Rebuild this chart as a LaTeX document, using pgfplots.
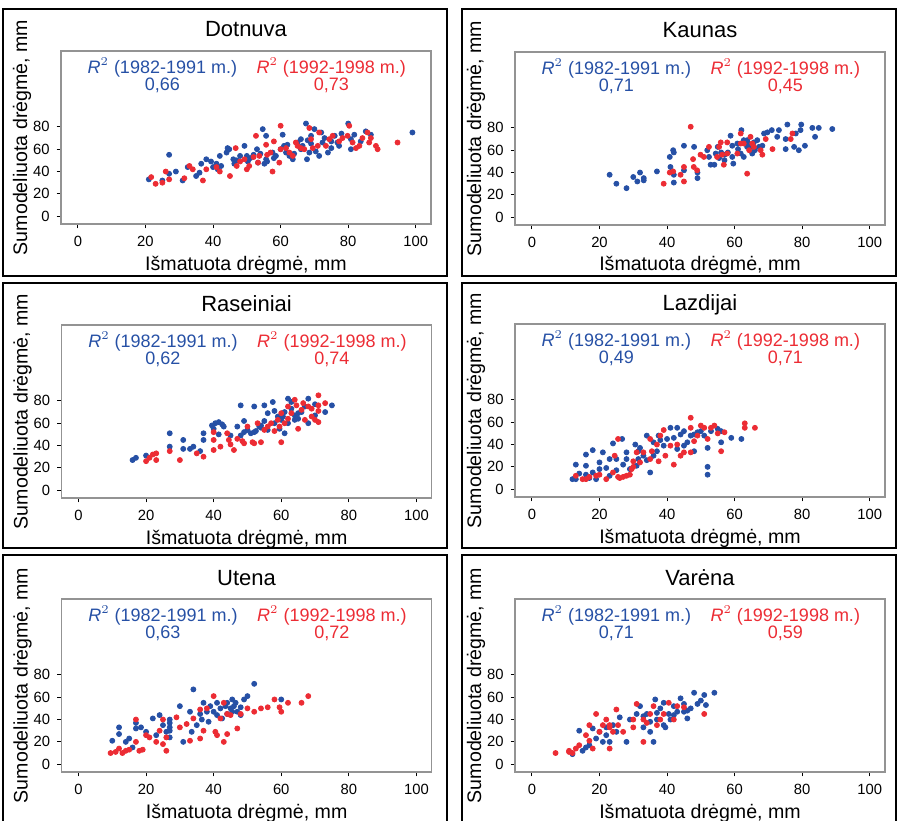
\documentclass[border=0pt]{standalone}
\usepackage{fontspec}
\setmainfont{Liberation Sans}
\usepackage{pgfplots}
\pgfplotsset{compat=1.18}

\definecolor{ptblue}{RGB}{38,80,165}
\definecolor{ptred}{RGB}{236,44,52}

\pgfplotsset{
  panel/.style={
    scale only axis, width=185pt, height=86.5pt,
    xmin=-5, xmax=104.5, ymin=-7, ymax=148,
    xtick={0,20,...,100}, ytick={0,20,...,80},
    xtick pos=bottom, ytick pos=left, tick align=outside,
    major tick length=2.2pt,
    axis line style={draw=gray!85, line width=0.6pt},
    tick style={black, line width=0.5pt},
    /pgf/number format/assume math mode=true,
    tick label style={font=\fontsize{7.4}{8}\selectfont},
    xticklabel style={yshift=-0.5pt},
    title style={at={(0.5,1)}, anchor=base, yshift=1pt, font=\fontsize{11}{13}\selectfont},
    xlabel={Išmatuota drėgmė, mm},
    ylabel={Sumodeliuota drėgmė, mm},
    label style={font=\fontsize{9.8}{11}\selectfont},
    xlabel style={at={(0.5,0)}, anchor=base, yshift=-23pt},
    ylabel style={at={(0,0.5)}, anchor=center, yshift=19.5pt},
    clip=false,
  },
  bpt/.style={only marks, mark=*, mark size=1.25pt, color=ptblue, mark options={draw=none, fill=ptblue}},
  rpt/.style={only marks, mark=*, mark size=1.25pt, color=ptred, mark options={draw=none, fill=ptred}},
}
\newcommand{\rsq}[2]{%
  \node[ptblue, font=\fontsize{9}{10}\selectfont] at (axis cs:25,133) {$\mathit{R}^{2}$ (1982-1991 m.)};
  \node[ptblue, font=\fontsize{9}{10}\selectfont] at (axis cs:25,117) {#1};
  \node[ptred, font=\fontsize{9}{10}\selectfont] at (axis cs:75,133) {$\mathit{R}^{2}$ (1992-1998 m.)};
  \node[ptred, font=\fontsize{9}{10}\selectfont] at (axis cs:75,117) {#2};
}

\begin{document}
\begin{tikzpicture}
\useasboundingbox (0,0) rectangle (449pt,410pt);
% panel frames
\draw[line width=1pt] (1.5pt,405.5pt) rectangle (223.5pt,272pt);
\draw[line width=1pt] (230.8pt,405.5pt) rectangle (448pt,272pt);
\draw[line width=1pt] (1.5pt,268.5pt) rectangle (223.5pt,136pt);
\draw[line width=1pt] (231pt,268.5pt) rectangle (448pt,136pt);
\draw[line width=1pt] (1.5pt,-2pt) -- (1.5pt,132.5pt) -- (223.5pt,132.5pt) -- (223.5pt,-2pt);
\draw[line width=1pt] (231pt,-2pt) -- (231pt,132.5pt) -- (448pt,132.5pt) -- (448pt,-2pt);

% Dotnuva
\begin{axis}[panel, at={(30.5pt,298pt)}, anchor=south west, title={Dotnuva}]
\addplot[bpt] coordinates {
(21,33) (27,55) (27,38) (25,32) (29,40) (31,32) (32.5,44) (35,36) (36,39) (36.5,47)
(38,51) (39.4,49) (41,47) (42,54) (42.4,45) (41.4,42) (44.3,61) (44.8,60) (46,51) (46.3,47)
(48,54) (49.3,63) (50,54) (50.3,49) (52,55) (53,60) (53.3,48) (54.7,78) (55.7,72) (55.7,51)
(55.2,47) (57.6,57) (58.6,54) (60.6,73) (61,63) (61.6,57) (62.6,54) (63.6,51) (65,66) (66,69)
(66.5,63) (67.5,83) (67.8,51) (68.5,57) (69,72) (70,78) (70.4,58) (71.4,54) (72,75) (72.4,66)
(74,57) (75,67) (76,72) (76.8,66) (77.3,63) (80,83) (80.8,69) (80.8,60) (81.8,73) (83.7,67)
(85.2,76) (86.7,73) (99,75) (75,61) (69,65) (64,56) (60,60) (58,52) (54,56) (51,52) (47,50)
(44,57) (40,44) (56,49) (66,60) (73,70) (78,74) (62,64) (68,68)
};
\addplot[rpt] coordinates {
(21.7,35) (23,29) (25,30) (26,40) (27,33) (31.5,34) (33,45) (34,42) (37,32) (38,42)
(41,44) (42,40) (45,36) (46.7,61) (47,45) (49.3,51) (50,42) (50.7,45) (52.7,72) (53.3,48)
(53.7,54) (55.7,64) (57,57) (57.6,40) (58,67) (59.6,48) (60,81) (60,60) (61.6,61) (62.6,57)
(63.6,54) (64.5,66) (66,61) (67,60) (68.5,79) (69,69) (69.5,61) (71,63) (71.4,75) (73.4,63)
(74.4,69) (75.4,72) (77.3,67) (78.3,70) (79.8,72) (80.3,81) (81.3,66) (82.3,61) (83.3,63) (84.2,70)
(85.7,75) (86.2,66) (88.2,63) (88.7,60) (94.6,66) (86.7,70) (65,63) (56,55) (52,53) (48,49)
};
\rsq{0,66}{0,73}
\end{axis}

% Kaunas
\begin{axis}[panel, at={(257.5pt,297.5pt)}, anchor=south west, title={Kaunas}]
\addplot[bpt] coordinates {
(23,38) (25,30) (28,26) (30,36) (31.2,32) (32,40) (33.1,35) (33.1,33) (37,41) (40.8,54)
(41,45) (41.8,60) (42,58) (42,38) (42,31) (45,64) (45,42) (48,63) (49,40) (49,35)
(51.9,60) (52.4,54) (52.9,47) (54,47) (54.4,57) (55,63) (55.4,53) (56,58) (57,51) (58,58)
(58.8,73) (59.3,64) (59.3,54) (60.8,66) (61.8,57) (62,78) (62.7,69) (62.7,54) (63.7,63) (63.7,69)
(64.7,63) (65.2,57) (65.7,67) (66.7,69) (67.2,63) (68.2,64) (68.7,75) (69.7,76) (71,78) (72.6,72)
(73.1,78) (75.1,61) (75.1,70) (75.6,83) (77.6,63) (78.1,75) (79,60) (79.5,78) (79.7,83) (80.8,64)
(83,80) (83.8,72) (84.9,80) (88.9,79) (59.6,48) (64,66) (66,60) (61,61) (57,56)
};
\addplot[rpt] coordinates {
(39,30) (40.8,40) (41.8,41) (44,38) (45,32) (45,45) (47,81) (47.7,52) (47.9,45) (48.9,42)
(49.9,56) (50.9,54) (52.4,63) (54.8,54) (55.4,63) (55.9,67) (56.3,56) (56.8,47) (57.8,67) (57.8,57)
(60.8,57) (61.8,75) (61.8,66) (62.7,66) (63.7,39) (64.3,60) (64.7,72) (65.2,66) (65.7,63) (67.7,60)
(68.2,56) (69.2,70) (71.2,61) (76.6,70) (77.1,75)
};
\rsq{0,71}{0,45}
\end{axis}

% Raseiniai
\begin{axis}[panel, at={(30.8pt,161pt)}, anchor=south west, title={Raseiniai}]
\addplot[bpt] coordinates {
(16,27) (17,29) (20,31) (27,51) (27,39) (31,45) (31,37) (33,37) (34,39) (36,35)
(37,51) (37,45) (39.5,58) (40,55) (40.5,60) (41.5,61) (42.5,59) (41.5,50) (43,57) (45,49)
(48,76) (47,57) (48,49) (49,62) (49,52) (50,54) (51,51) (52,75) (52.5,53) (53.5,57)
(54,58) (55,76) (55,62) (56,69) (57.5,79) (58,60) (59,66) (59.5,55) (60.5,66) (61,70)
(62,60) (62,82) (63,73) (64,63) (65,69) (65,64) (66,70) (67,75) (68,82) (68,60)
(70,67) (70,77) (73,70) (75,76) (61,51) (56,54) (58,71) (63,79) (52,52) (54,56) (60,63) (64,67)
};
\addplot[rpt] coordinates {
(20,26) (21,29) (22,32) (23,27) (23,33) (27,35) (30,27) (35,33) (37,30) (40,45)
(40,52) (40,36) (42,39) (44,51) (44.5,45) (45,41) (46,36) (47,46) (48.5,44) (49,42)
(51.5,43) (52,42) (54,43) (50,57) (53,60) (55,54) (56,57) (58,53) (59.5,57) (60,43)
(59,63) (60,69) (61,60) (62,75) (63,69) (64,81) (64.5,76) (65,55) (66,72) (66.5,78)
(67,63) (68,75) (69,66) (69,73) (71,61) (71,76) (71,85) (73,78) (71,71) (70,63) (62,64) (57,60)
};
\rsq{0,62}{0,74}
\end{axis}

% Lazdijai
\begin{axis}[panel, at={(257.5pt,161.5pt)}, anchor=south west, title={Lazdijai}]
\addplot[bpt] coordinates {
(12,9) (13,22) (13,9) (16,31) (16,21) (16,13) (18,35) (18,15) (19,9) (20,24)
(21,33) (22,19) (23,27) (24,41) (25,17) (25,27) (26.7,45) (27,22) (28,33) (29,18)
(30.6,40) (31.5,34) (31.5,27) (32,37) (33,30) (34,48) (35,15) (36,42) (36,30) (37,34)
(37.5,48) (39,39) (40,45) (41,55) (42,46) (43,55) (43,36) (44,49) (45,39) (46,42)
(47,48) (48,49) (48,34) (49,51) (50,52) (52,20) (52,13) (52,37) (53,52) (55,54)
(56,42) (59,46) (62,45) (56,52) (51,48) (45,52) (31,21) (23,12) (17,10) (14,14) (20,18) (28,27) (34,26) (38,44)
};
\addplot[rpt] coordinates {
(13,12) (15,9) (16,9) (17,11) (19,12) (20,13) (22,9) (24,15) (24.5,30) (25.5,45)
(25.5,11) (27,11) (28,12) (29,13) (29.5,18) (30,25) (31,33) (32,24) (33,33) (35,27)
(35.5,34) (37,40) (37.5,25) (38,48) (39,53) (39.5,30) (41,39) (42,22) (43,40) (44,30)
(45,33) (47,64) (47,55) (48,43) (49,48) (50,57) (51,55) (52,45) (53,55) (54,57)
(55,50) (56,34) (57,51) (63,55) (63,59) (66,55) (47,33) (35,45) (26,10) (30,20)
};
\rsq{0,49}{0,71}
\end{axis}

% Utena
\begin{axis}[panel, at={(30.8pt,24pt)}, anchor=south west, title={Utena}]
\addplot[bpt] coordinates {
(10,21) (12,33) (12,27) (14,20) (15,23) (16,15) (17,32) (17,37) (18.5,33) (20,29)
(22,41) (23,26) (24,44) (25,35) (26,29) (27,40) (27,33) (27,24) (30,52) (31,20)
(33,47) (34,67) (33.5,29) (35,35) (36.5,40) (37,55) (38,47) (38.5,38) (40,47) (41,44)
(42,50) (42.5,41) (43.5,52) (44,55) (45,50) (45.5,58) (46.5,55) (47,47) (48,51) (49,58)
(50,61) (52,72) (48,44) (45.5,47) (60,58) (36,45) (39,52) (41,55) (27,37) (27,30) (44,45) (46,52)
};
\addplot[rpt] coordinates {
(9.5,10) (11,11) (12,14) (14,12) (15,13) (17,20) (17,40) (18,12) (19,13) (20,26)
(21,24) (23,20) (25,40) (25,18) (26,12) (26,24) (29,42) (30,33) (32,36) (33,21)
(34,41) (36,23) (37,30) (38,50) (40,61) (40.5,29) (41,26) (42,41) (43,20) (43,55)
(44,27) (45,44) (47,32) (48,45) (50,50) (52,47) (54,50) (56,51) (58,58) (59.5,51)
(60,47) (66,55) (68,61) (62,55) (36,49) (44,45) (13,10) (24,30)
};
\rsq{0,63}{0,72}
\end{axis}

% Varena
\begin{axis}[panel, at={(257.5pt,24pt)}, anchor=south west, title={Varėna}]
\addplot[bpt] coordinates {
(14,30) (17,17) (15,12) (18,32) (19,23) (20,29) (21,20) (22,26) (22,33) (23,20)
(24,35) (25,29) (26,42) (28,20) (29,40) (31,45) (32,52) (33,33) (34,45) (35,29)
(36,20) (36.5,58) (37,40) (38,50) (39,55) (39.5,33) (40.5,45) (41,40) (42,52) (43,47)
(44,59) (45,54) (46,41) (47,50) (48,64) (49,54) (50,57) (51,62) (51.5,53) (54,64)
(37,46) (33,43) (45,47) (39,35) (12,9) (16,15) (46,48) (42,44) (35,38)
};
\addplot[rpt] coordinates {
(7,10) (11,12) (12,10) (13,14) (14,17) (16,26) (17,21) (17,35) (18,14) (19,45)
(20,29) (21,35) (22,40) (23,14) (23,35) (24,29) (25,49) (25.5,35) (27,29) (30,40)
(31,54) (33,20) (33,40) (35,45) (36,52) (37,35) (39,45) (40.5,55) (42,40) (43,52)
(45,51) (51,45) (34,37) (38,40) (30,33) (11,11) (23,33)
};
\rsq{0,71}{0,59}
\end{axis}
\end{tikzpicture}
\end{document}
